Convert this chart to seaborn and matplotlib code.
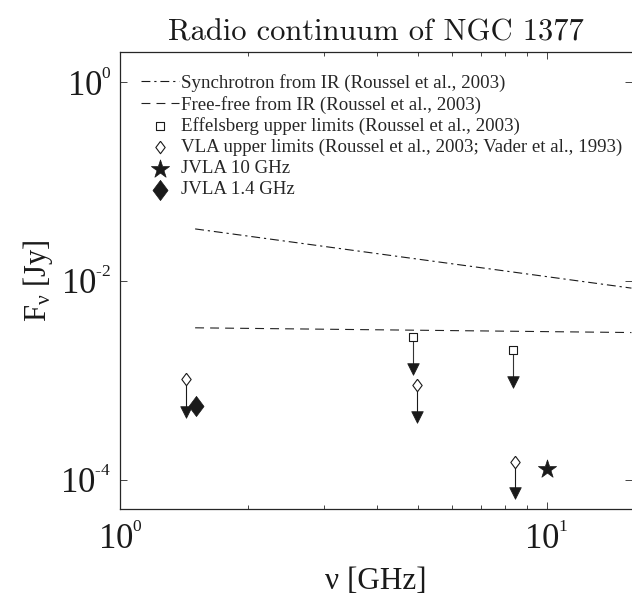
import numpy as np
import matplotlib
matplotlib.use('Agg')
import matplotlib.pyplot as plt
import matplotlib.ticker as mticker
import matplotlib._mathtext as mathtext_internal
import seaborn as sns

# Data (frequencies in GHz, flux densities in Jy)
nu_model = [1.5, 15.8]
sync_flux = [3.33e-2, 8.45e-3]
ff_flux = [3.37e-3, 3.02e-3]

eff_nu = [4.85, 8.35]
eff_flux = [2.7e-3, 2.0e-3]
eff_tip = [1.3e-3, 9.6e-4]

vla_nu = [1.43, 4.98, 8.44]
vla_flux = [1.02e-3, 9.0e-4, 1.49e-4]
vla_tip = [4.8e-4, 4.3e-4, 7.4e-5]

jvla10_nu = [10.0]
jvla10_flux = [1.28e-4]
jvla14_nu = [1.51]
jvla14_flux = [5.5e-4]

labels = ['Synchrotron from IR (Roussel et al., 2003)',
          'Free-free from IR (Roussel et al., 2003)',
          'Effelsberg upper limits (Roussel et al., 2003)',
          'VLA upper limits (Roussel et al., 2003; Vader et al., 1993)',
          'JVLA 10 GHz',
          'JVLA 1.4 GHz']

# Style
sns.set_theme(style='ticks')
plt.rcParams['font.family'] = ['Liberation Serif', 'DejaVu Serif']
plt.rcParams['mathtext.fontset'] = 'custom'
plt.rcParams['mathtext.rm'] = 'Liberation Serif'
plt.rcParams['mathtext.it'] = 'Liberation Serif:italic'
plt.rcParams['mathtext.bf'] = 'Liberation Serif:bold'
# small, high exponents like the MATLAB tick labels
has_shrink = hasattr(mathtext_internal, 'SHRINK_FACTOR')
if has_shrink:
    mathtext_internal.SHRINK_FACTOR = 0.5
if hasattr(mathtext_internal, 'FontConstantsBase'):
    mathtext_internal.FontConstantsBase.sup1 = 1.0

axcol = '#262626'
txtcol = '#1a1a1a'
diamond = [(0, 1), (0.75, 0), (0, -1), (-0.75, 0), (0, 1)]

fig = plt.figure(figsize=(6.32, 5.98), dpi=100)
ax = fig.add_axes([120 / 632, 1 - 509 / 598, 1 - 120 / 632, (509 - 52) / 598])

# model lines
sns.lineplot(x=nu_model, y=sync_flux, ax=ax, color='k', lw=0.8,
             linestyle=(0, (8, 3.5, 2, 3.5)), label=labels[0])
sns.lineplot(x=nu_model, y=ff_flux, ax=ax, color='#222222', lw=0.8,
             linestyle=(0, (8, 5.5)), label=labels[1])

# upper-limit stems and arrow heads
ax.vlines(eff_nu, eff_tip, eff_flux, colors='#333333', lw=0.8)
ax.vlines(vla_nu, vla_tip, vla_flux, colors='k', lw=0.8)
sns.scatterplot(x=eff_nu + vla_nu, y=eff_tip + vla_tip, ax=ax, marker='v',
                s=70, color='k', edgecolor='k', linewidth=0.5, zorder=3)

# measurements
sns.scatterplot(x=eff_nu, y=eff_flux, ax=ax, marker='s', s=30,
                facecolor='white', edgecolor='k', linewidth=0.8,
                label=labels[2], zorder=4)
sns.scatterplot(x=vla_nu, y=vla_flux, ax=ax, marker=diamond, s=80,
                facecolor='white', edgecolor='k', linewidth=0.8,
                label=labels[3], zorder=4)
sns.scatterplot(x=jvla10_nu, y=jvla10_flux, ax=ax, marker='*', s=190,
                color='k', edgecolor='k', linewidth=0.5,
                label=labels[4], zorder=4)
sns.scatterplot(x=jvla14_nu, y=jvla14_flux, ax=ax, marker=diamond, s=210,
                color='k', edgecolor='k', linewidth=0.5,
                label=labels[5], zorder=4)

ax.set_xscale('log')
ax.set_yscale('log')
ax.set_xlim(1, 10 ** 1.2)
ax.set_ylim(10 ** -4.295, 10 ** 0.302)

ax.xaxis.set_major_locator(mticker.FixedLocator([1, 10]))
ax.xaxis.set_minor_locator(mticker.LogLocator(base=10, subs=np.arange(2, 10)))
ax.xaxis.set_minor_formatter(mticker.NullFormatter())
ax.yaxis.set_major_locator(mticker.FixedLocator([1e-4, 1e-2, 1]))
ax.yaxis.set_minor_locator(mticker.NullLocator())


def pow10(v, _):
    e = int(round(np.log10(v)))
    s = str(e).replace('-', '\u2010')
    return r'$\mathregular{10^{%s}}$' % s


ax.xaxis.set_major_formatter(mticker.FuncFormatter(pow10))
ax.yaxis.set_major_formatter(mticker.FuncFormatter(pow10))

ax.tick_params(which='both', direction='in', top=True, right=True,
               color=axcol, width=0.6, labelsize=25, labelcolor=txtcol)
ax.tick_params(which='major', length=5)
ax.tick_params(which='minor', length=3)
ax.tick_params(axis='x', pad=10)
ax.tick_params(axis='y', pad=6)
for side in ['left', 'bottom', 'top']:
    ax.spines[side].set_color(axcol)
    ax.spines[side].set_linewidth(0.9)
ax.spines['right'].set_visible(False)

ax.set_xlabel('ν [GHz]', fontsize=22.5, color=txtcol, labelpad=8)
ax.set_title('Radio continuum of NGC 1377', fontsize=22, family='cmr10',
             color=txtcol, pad=8)

handles, labs = ax.get_legend_handles_labels()
order = [labs.index(l) for l in labels]
ax.legend([handles[i] for i in order], labels, loc='upper left',
          bbox_to_anchor=(141 / 632, 1 - 74 / 598), bbox_transform=fig.transFigure,
          frameon=False, fontsize=13.6, handlelength=2.0, handletextpad=0.1,
          labelspacing=0.2, borderpad=0, borderaxespad=0, scatterpoints=1)

# first pass renders the tick exponents small; the y-label subscript
# is added afterwards with the normal sub/superscript size
fig.canvas.draw()
if has_shrink:
    mathtext_internal.SHRINK_FACTOR = 0.7
ax.set_ylabel(r'F$_{\mathregular{ν}}$ [Jy]', fontsize=22, color=txtcol, labelpad=4)

fig.savefig('out.png', dpi=100)
